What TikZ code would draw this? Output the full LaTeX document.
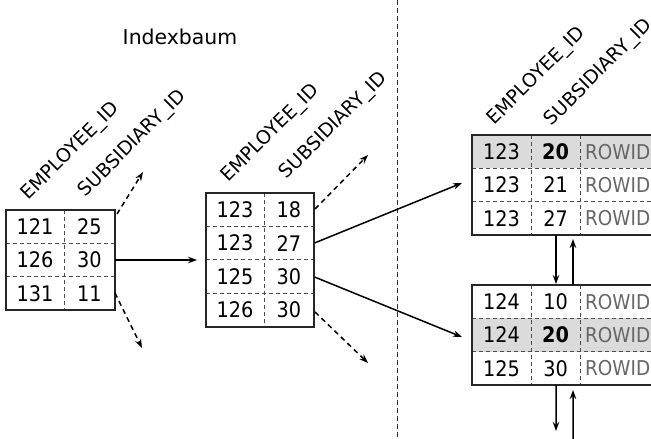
\documentclass[tikz,border=0pt]{standalone}
\usepackage{fontspec}
\setmainfont{DejaVu Sans}
\newfontfamily\condfont{DejaVu Sans Condensed}
\usetikzlibrary{arrows.meta,calc,backgrounds}
\begin{document}
\begin{tikzpicture}[x=1bp,y=-1bp,
 tbl/.style={draw=black!85,line width=1.9bp,inner sep=0,outer sep=0,rectangle},
 cell/.style={inner sep=0,font=\condfont\fontsize{21.5}{21.5}\selectfont},
 bcell/.style={cell,font=\condfont\fontsize{21.5}{21.5}\selectfont\bfseries},
 rid/.style={inner sep=0,anchor=west,text=black!60,font=\condfont\fontsize{20.5}{20.5}\selectfont},
 hdr/.style={inner sep=0,anchor=south west,rotate=45,font=\fontsize{19}{19}\selectfont},
 div/.style={black!70,line width=1bp,dash pattern=on 4bp off 3bp},
 vline/.style={black!80,line width=0.9bp,dash pattern=on 5bp off 3bp},
 arr/.style={line width=1.5bp,-{Stealth[length=9bp,width=6.5bp]}},
 darr/.style={arr,dash pattern=on 5bp off 4bp},
 hl/.style={fill=black!14},
]
\useasboundingbox (0,0) rectangle (651,439);
\clip (0,0) rectangle (651,439);

% title
\node[inner sep=0,font=\fontsize{20.5}{20.5}\selectfont] (title) at (180,37) {Indexbaum};

% separator
\coordinate (vtop) at (397,0);
\coordinate (vbot) at (397,439);
\draw[vline] (vtop) -- (vbot);

% tables
\node[tbl,minimum width=109bp,minimum height=100bp] (t1) at (60.5,260) {};
\node[tbl,minimum width=108bp,minimum height=134bp] (t2) at (260,260) {};
\node[tbl,minimum width=188bp,minimum height=100bp] (t3) at (566,185) {};
\node[tbl,minimum width=188bp,minimum height=100bp] (t4) at (566,335) {};

\begin{scope}[on background layer]
 \fill[hl] (t3.north west) rectangle ($(t3.north east)+(0,33.3)$);
 \fill[hl] ($(t4.north west)+(0,33.3)$) rectangle ($(t4.north east)+(0,66.7)$);
 % t1 dividers
 \draw[div] ($(t1.north west)+(58,0)$) -- ($(t1.south west)+(58,0)$);
 \draw[div] ($(t1.north west)+(0,33.3)$) -- ($(t1.north east)+(0,33.3)$);
 \draw[div] ($(t1.north west)+(0,66.7)$) -- ($(t1.north east)+(0,66.7)$);
 % t2 dividers
 \draw[div] ($(t2.north west)+(58,0)$) -- ($(t2.south west)+(58,0)$);
 \draw[div] ($(t2.north west)+(0,33.5)$) -- ($(t2.north east)+(0,33.5)$);
 \draw[div] ($(t2.north west)+(0,67)$) -- ($(t2.north east)+(0,67)$);
 \draw[div] ($(t2.north west)+(0,100.5)$) -- ($(t2.north east)+(0,100.5)$);
 % t3 / t4 dividers
 \foreach \t in {t3,t4}{
  \draw[div] ($(\t.north west)+(59,0)$) -- ($(\t.south west)+(59,0)$);
  \draw[div] ($(\t.north west)+(108,0)$) -- ($(\t.south west)+(108,0)$);
  \draw[div] ($(\t.north west)+(0,33.3)$) -- ($(\t.north east)+(0,33.3)$);
  \draw[div] ($(\t.north west)+(0,66.7)$) -- ($(\t.north east)+(0,66.7)$);
 }
\end{scope}

% headers
\node[hdr] (h1a) at (32,204) {EMPLOYEE\_ID};
\node[hdr] (h1b) at (89,201) {SUBSIDIARY\_ID};
\node[hdr] (h2a) at (232,186) {EMPLOYEE\_ID};
\node[hdr] (h2b) at (290,183) {SUBSIDIARY\_ID};
\node[hdr] (h3a) at (498,129) {EMPLOYEE\_ID};
\node[hdr] (h3b) at (555,130) {SUBSIDIARY\_ID};

% t1 cells
\node[cell] (c11a) at (35,226.7) {121};  \node[cell] (c11b) at (89.5,226.7) {25};
\node[cell] (c12a) at (35,260)   {126};  \node[cell] (c12b) at (89.5,260)   {30};
\node[cell] (c13a) at (35,293.3) {131};  \node[cell] (c13b) at (89.5,293.3) {11};
% t2 cells
\node[cell] (c21a) at (235,209.7) {123}; \node[cell] (c21b) at (289,209.7) {18};
\node[cell] (c22a) at (235,243.2) {123}; \node[cell] (c22b) at (289,243.2) {27};
\node[cell] (c23a) at (235,276.7) {125}; \node[cell] (c23b) at (289,276.7) {30};
\node[cell] (c24a) at (235,310.2) {126}; \node[cell] (c24b) at (289,310.2) {30};
% t3 cells
\node[cell] (c31a) at (501.5,151.7) {123}; \node[bcell] (c31b) at (555.5,151.7) {20}; \node[rid] (c31c) at (585,151.7) {ROWID};
\node[cell] (c32a) at (501.5,185)   {123}; \node[cell] (c32b) at (555.5,185)   {21}; \node[rid] (c32c) at (585,185)   {ROWID};
\node[cell] (c33a) at (501.5,218.3) {123}; \node[cell] (c33b) at (555.5,218.3) {27}; \node[rid] (c33c) at (585,218.3) {ROWID};
% t4 cells
\node[cell] (c41a) at (501.5,301.7) {124}; \node[cell] (c41b) at (555.5,301.7) {10}; \node[rid] (c41c) at (585,301.7) {ROWID};
\node[cell] (c42a) at (501.5,335)   {124}; \node[bcell] (c42b) at (555.5,335)   {20}; \node[rid] (c42c) at (585,335)   {ROWID};
\node[cell] (c43a) at (501.5,368.3) {125}; \node[cell] (c43b) at (555.5,368.3) {30}; \node[rid] (c43c) at (585,368.3) {ROWID};

% free ends
\coordinate (u1) at (143,172);
\coordinate (d1) at (142,348);
\coordinate (u2) at (368,155);
\coordinate (d2) at (368,363);
\coordinate (bdn) at (556,431);
\coordinate (bup) at (573,439);

% connectors
\draw[arr] (t1.east) -- ($(t2.west)+(-9,0)$);
\draw[darr] ($(t1.north east)+(2,4)$) -- (u1);
\draw[darr] ($(t1.south east)+(0,-17)$) -- (d1);
\draw[arr] ($(t2.east)+(0.5,-17)$) -- ($(t3.west)+(-10,-2)$);
\draw[arr] ($(t2.east)+(0.5,17)$) -- ($(t4.west)+(-10,2)$);
\draw[darr] ($(t2.north east)+(1,16)$) -- (u2);
\draw[darr] ($(t2.south east)+(1,-15)$) -- (d2);
\draw[arr] ($(t3.south west)+(84,0)$) -- ($(t4.north west)+(84,-1)$);
\draw[arr] ($(t4.north west)+(101,0)$) -- ($(t3.south west)+(101,4)$);
\draw[arr] ($(t4.south west)+(84,0)$) -- (bdn);
\draw[arr] (bup) -- ($(t4.south west)+(101,5)$);
\end{tikzpicture}
\end{document}
